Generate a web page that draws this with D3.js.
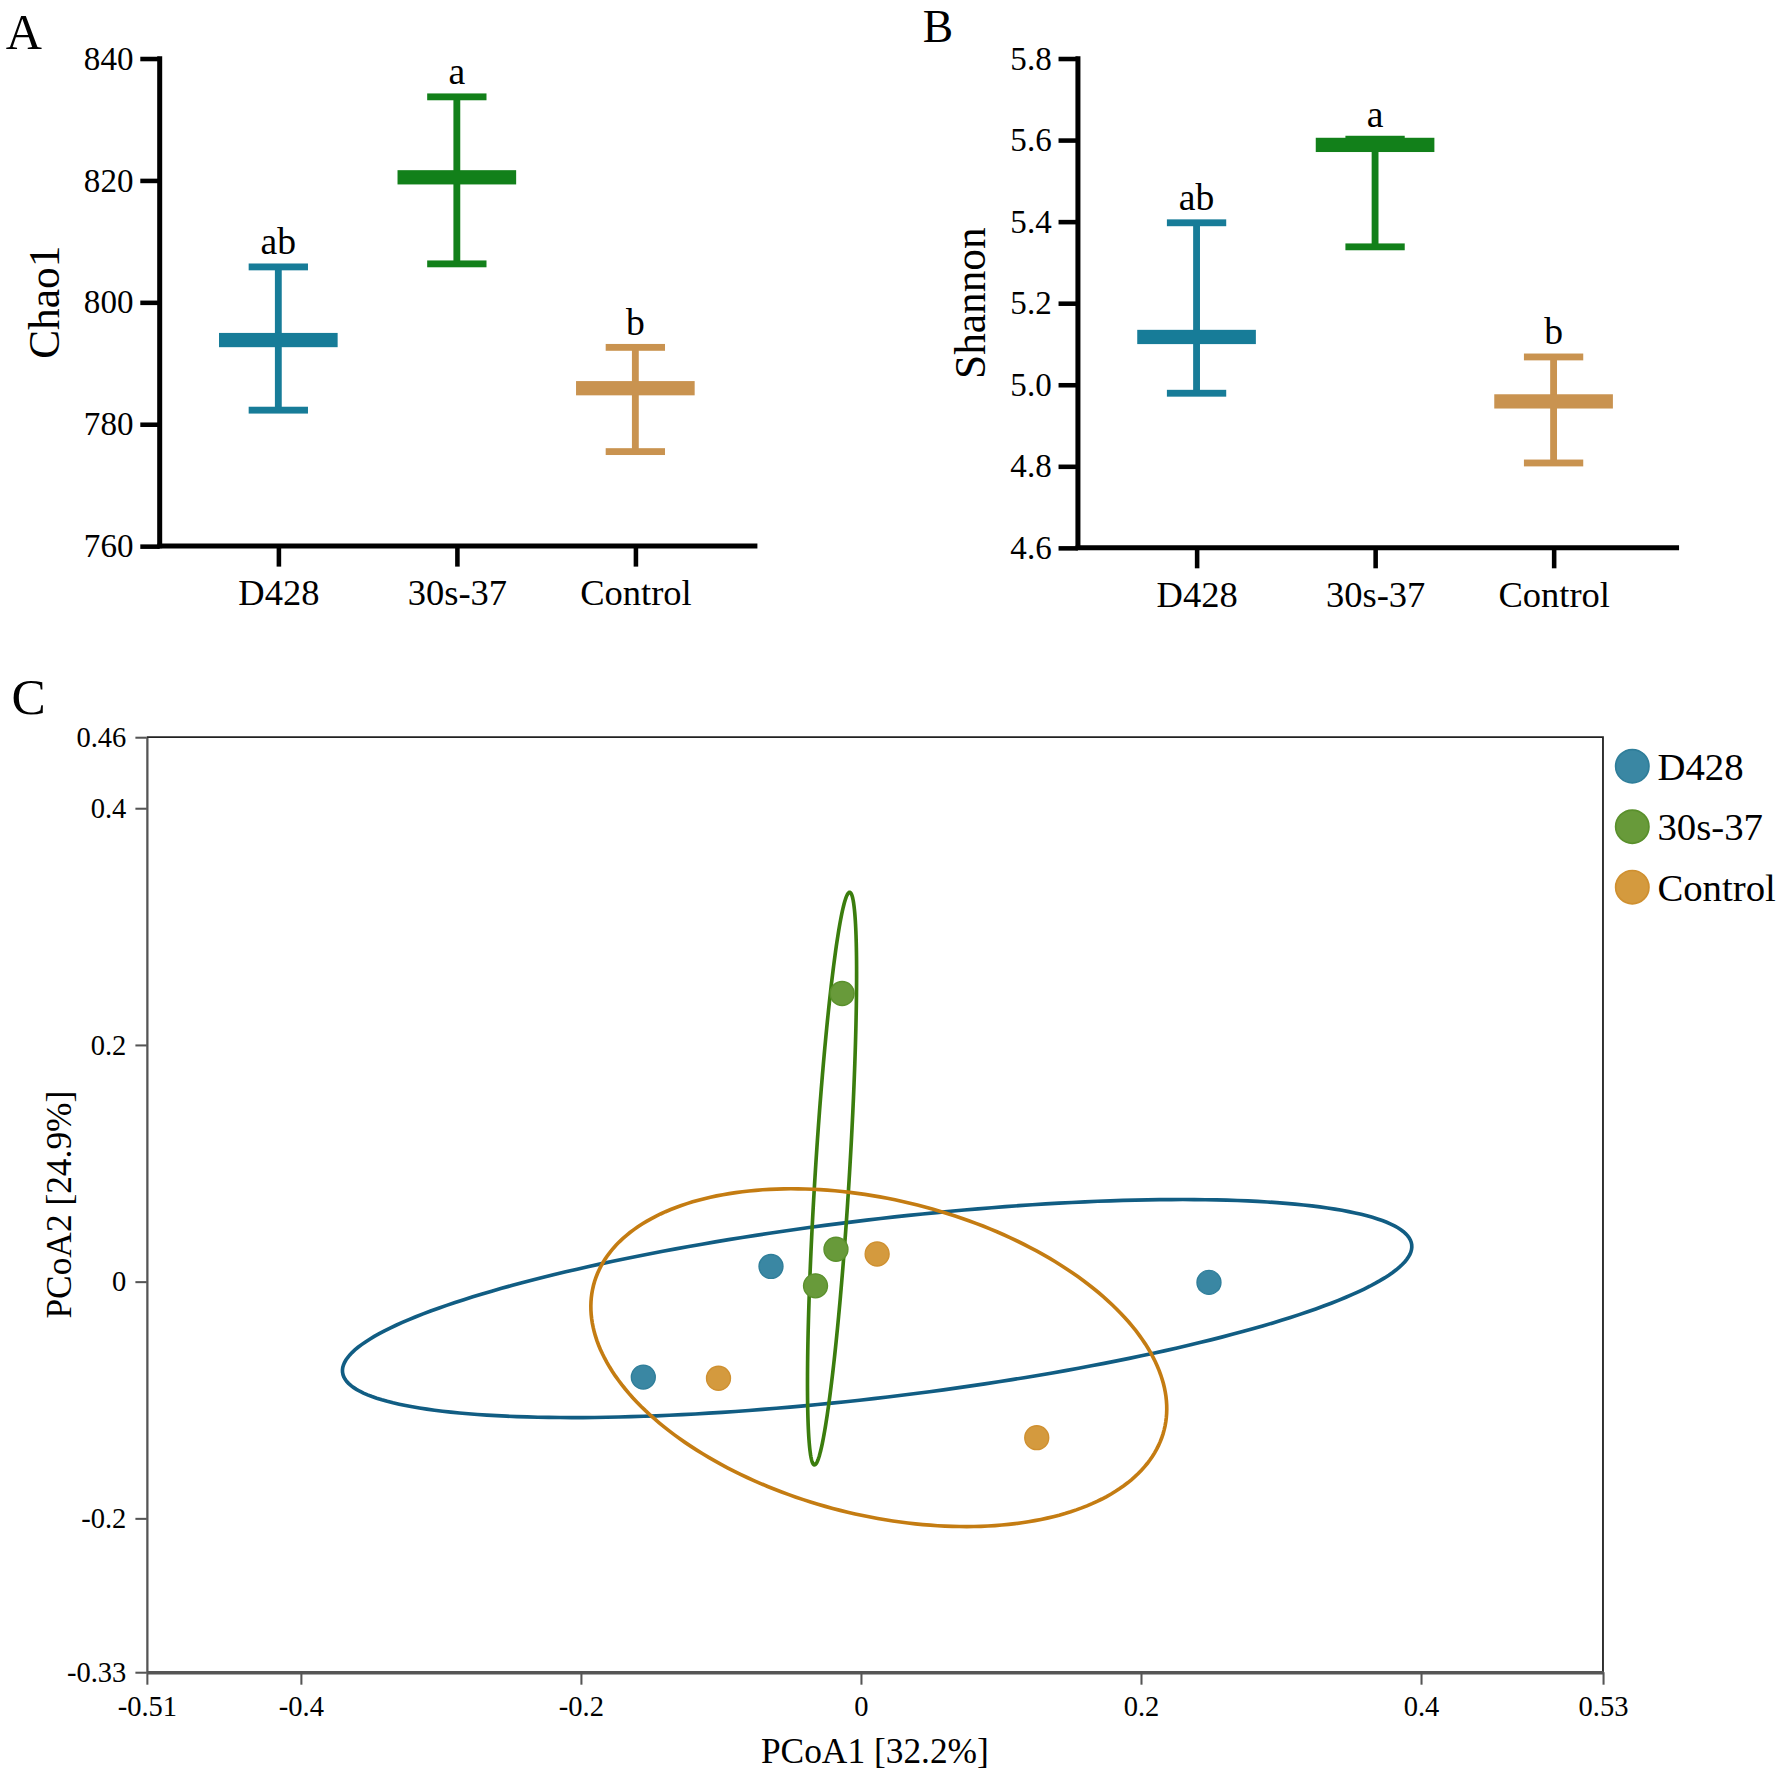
<!DOCTYPE html>
<html lang="en">
<head>
<meta charset="utf-8">
<title>Alpha diversity and PCoA</title>
<script src="https://d3js.org/d3.v7.min.js"></script>
<style>
  body { margin: 0; background: #fff; }
  svg, svg text { font-family: "Liberation Serif", "Times New Roman", serif; }
  svg { display: block; }
</style>
</head>
<body>
<div id="chart"></div>
<script>
// groups and colours
const groups = ["D428", "30s-37", "Control"];
const barColors = ["#177c98", "#12801a", "#c99350"];

// panel A: Chao1 (mean, upper and lower whisker)
const chaoMean = [793.8, 820.5, 785.9];
const chaoHigh = [805.8, 833.7, 792.6];
const chaoLow = [782.3, 806.3, 775.5];
const chaoLetters = ["ab", "a", "b"];
const chaoTicks = [760, 780, 800, 820, 840];

// panel B: Shannon
const shanMean = [5.117, 5.588, 4.959];
const shanHigh = [5.397, 5.602, 5.068];
const shanLow = [4.979, 5.338, 4.808];
const shanLetters = ["ab", "a", "b"];
const shanTicks = [4.6, 4.8, 5.0, 5.2, 5.4, 5.6, 5.8];

// panel C: PCoA samples
const sampleGroup = ["D428", "D428", "D428", "30s-37", "30s-37", "30s-37", "Control", "Control", "Control"];
const pcoa1 = [-0.0642, -0.1554, 0.2486, -0.0134, -0.0178, -0.0324, 0.0116, -0.1017, 0.1256];
const pcoa2 = [0.0128, -0.0807, -0.0007, 0.2434, 0.0273, -0.0036, 0.0233, -0.0817, -0.1319];
const pcoaXTicks = [-0.51, -0.4, -0.2, 0, 0.2, 0.4, 0.53];
const pcoaYTicks = [-0.33, -0.2, 0, 0.2, 0.4, 0.46];

// confidence ellipses per group (centre and two semi-axis vectors, data units)
const ellCx = [0.0116, -0.0206, 0.0128];
const ellCy = [-0.0228, 0.0870, -0.0643];
const ellUx = [0.3818, 0.0126, 0.2038];
const ellUy = [0.0539, 0.2419, -0.0610];
const ellVx = [0.0075, 0.0122, -0.0276];
const ellVy = [-0.0747, -0.0009, -0.1290];

const lineColors = ["#115d83", "#3b7d0e", "#c47c12"];
const dotColors = ["#3a87a3", "#689a3a", "#d49a3e"];
const dotStroke = ["#2f7e9a", "#5a902c", "#cf9030"];

const W = 1564, H = 1553;
const svg = d3.select("#chart").append("svg")
    .attr("width", 1784).attr("height", 1772)
    .attr("viewBox", "0 0 " + W + " " + H);

function styleTicks(sel, size) {
  sel.attr("font-family", null).attr("font-size", null);
  sel.selectAll("text")
      .style("font-family", "'Liberation Serif', 'Times New Roman', serif")
      .style("font-size", size + "px")
      .attr("fill", "#000");
}

// ---------- panels A and B ----------
function errorPanel(opt) {
  const g = svg.append("g");
  const y = d3.scaleLinear().domain(opt.domain).range([opt.bottom, opt.top]);
  const x = d3.scalePoint().domain(groups).range([opt.left + 104, opt.left + 417]);

  const yAxis = g.append("g")
      .attr("transform", "translate(" + opt.left + ",0)")
      .call(d3.axisLeft(y).tickValues(opt.ticks).tickSize(17).tickSizeOuter(0).tickPadding(6)
            .tickFormat(opt.fmt));
  yAxis.select(".domain").remove();
  yAxis.selectAll("line").attr("stroke", "#000").attr("stroke-width", 4);
  styleTicks(yAxis, 29);

  const xAxis = g.append("g")
      .attr("transform", "translate(0," + opt.bottom + ")")
      .call(d3.axisBottom(x).tickSize(18).tickSizeOuter(0).tickPadding(11));
  xAxis.select(".domain").remove();
  xAxis.selectAll("line").attr("stroke", "#000").attr("stroke-width", 4);
  styleTicks(xAxis, 32);

  g.append("line").attr("x1", opt.left).attr("x2", opt.left)
      .attr("y1", y.range()[1] - 2).attr("y2", opt.bottom + 2)
      .attr("stroke", "#000").attr("stroke-width", 4.4);
  g.append("line").attr("x1", opt.left - 2).attr("x2", opt.right)
      .attr("y1", opt.bottom).attr("y2", opt.bottom)
      .attr("stroke", "#000").attr("stroke-width", 4.4);

  const rows = groups.map((k, i) => ({k: k, m: opt.mean[i], hi: opt.high[i], lo: opt.low[i], c: barColors[i], t: opt.letters[i]}));
  const bars = g.selectAll(".eb").data(rows).enter().append("g");
  bars.append("rect")
      .attr("x", d => x(d.k) - 3).attr("width", 6)
      .attr("y", d => y(d.hi)).attr("height", d => y(d.lo) - y(d.hi))
      .attr("fill", d => d.c);
  bars.append("rect")
      .attr("x", d => x(d.k) - 26).attr("width", 52)
      .attr("y", d => y(d.hi) - 3).attr("height", 6).attr("fill", d => d.c);
  bars.append("rect")
      .attr("x", d => x(d.k) - 26).attr("width", 52)
      .attr("y", d => y(d.lo) - 3).attr("height", 6).attr("fill", d => d.c);
  bars.append("rect")
      .attr("x", d => x(d.k) - 52).attr("width", 104)
      .attr("y", d => y(d.m) - 6.25).attr("height", 12.5).attr("fill", d => d.c);
  bars.append("text")
      .attr("x", d => x(d.k)).attr("y", d => y(d.hi) - 11)
      .attr("text-anchor", "middle").attr("font-size", 33)
      .text(d => d.t);

  g.append("text")
      .attr("transform", "translate(" + opt.titleX + "," + (opt.top + opt.bottom) / 2 + ") rotate(-90)")
      .attr("text-anchor", "middle").attr("dy", "0.35em")
      .attr("font-size", 38)
      .text(opt.title);
  g.append("text").attr("x", opt.tagX).attr("y", opt.tagY)
      .attr("font-size", opt.tagSize).text(opt.tag);
}

errorPanel({domain: [760, 840], ticks: chaoTicks, fmt: d3.format("d"),
  left: 140, right: 664, top: 51, bottom: 478.5,
  mean: chaoMean, high: chaoHigh, low: chaoLow, letters: chaoLetters,
  title: "Chao1", titleX: 38, tag: "A", tagX: 5, tagY: 43, tagSize: 44});

errorPanel({domain: [4.6, 5.8], ticks: shanTicks, fmt: d3.format(".1f"),
  left: 945, right: 1472, top: 51, bottom: 480,
  mean: shanMean, high: shanHigh, low: shanLow, letters: shanLetters,
  title: "Shannon", titleX: 850, tag: "B", tagX: 809, tagY: 36.5, tagSize: 40});

// ---------- panel C: PCoA ----------
const px = d3.scaleLinear().domain([-0.51, 0.53]).range([128.7, 1405.3]);
const py = d3.scaleLinear().domain([-0.33, 0.46]).range([1465.7, 646]);
const gc = svg.append("g");

gc.append("text").attr("x", 10).attr("y", 626).attr("font-size", 45).text("C");

// frame (top and right)
gc.append("path")
    .attr("d", "M" + px.range()[0] + "," + py.range()[1] + "H" + px.range()[1] + "V" + py.range()[0])
    .attr("fill", "none").attr("stroke", "#222").attr("stroke-width", 1.6);

const cy = gc.append("g").attr("transform", "translate(" + px.range()[0] + ",0)")
    .call(d3.axisLeft(py).tickValues(pcoaYTicks).tickSize(10).tickSizeOuter(0).tickPadding(8)
          .tickFormat(d => String(d)));
cy.select(".domain").attr("stroke", "#555").attr("stroke-width", 2);
cy.selectAll("line").attr("stroke", "#555").attr("stroke-width", 1.8);
styleTicks(cy, 25);

const cx = gc.append("g").attr("transform", "translate(0," + py.range()[0] + ")")
    .call(d3.axisBottom(px).tickValues(pcoaXTicks).tickSize(11).tickSizeOuter(0).tickPadding(10)
          .tickFormat(d => String(d)));
cx.select(".domain").attr("stroke", "#555").attr("stroke-width", 3.2);
cx.selectAll("line").attr("stroke", "#555").attr("stroke-width", 1.8);
styleTicks(cx, 25);

gc.append("text").attr("x", (px.range()[0] + px.range()[1]) / 2).attr("y", 1545)
    .attr("text-anchor", "middle").attr("font-size", 31).text("PCoA1 [32.2%]");
gc.append("text")
    .attr("transform", "translate(51," + (py.range()[0] + py.range()[1]) / 2 + ") rotate(-90)")
    .attr("text-anchor", "middle").attr("dy", "0.35em").attr("font-size", 31)
    .text("PCoA2 [24.9%]");

// ellipses
const ang = d3.range(0, 2 * Math.PI, Math.PI / 120);
const ellLine = d3.line().curve(d3.curveLinearClosed);
groups.forEach((k, i) => {
  const pts = ang.map(t => [
    px(ellCx[i] + ellUx[i] * Math.cos(t) + ellVx[i] * Math.sin(t)),
    py(ellCy[i] + ellUy[i] * Math.cos(t) + ellVy[i] * Math.sin(t))
  ]);
  gc.append("path").attr("d", ellLine(pts))
      .attr("fill", "none").attr("stroke", lineColors[i]).attr("stroke-width", 3.2);
});

// sample points
gc.selectAll(".pt").data(d3.range(pcoa1.length)).enter().append("circle")
    .attr("cx", i => px(pcoa1[i])).attr("cy", i => py(pcoa2[i])).attr("r", 10.5)
    .attr("fill", i => dotColors[groups.indexOf(sampleGroup[i])])
    .attr("stroke", i => dotStroke[groups.indexOf(sampleGroup[i])])
    .attr("stroke-width", 1.2);

// legend
const leg = gc.selectAll(".leg").data(groups).enter().append("g")
    .attr("transform", (d, i) => "translate(1431," + (671.5 + i * 53) + ")");
leg.append("circle").attr("r", 14.6)
    .attr("fill", (d, i) => dotColors[i]).attr("stroke", (d, i) => dotStroke[i]).attr("stroke-width", 1.5);
leg.append("text").attr("x", 22).attr("y", 12).attr("font-size", 34).text(d => d);
</script>
</body>
</html>
